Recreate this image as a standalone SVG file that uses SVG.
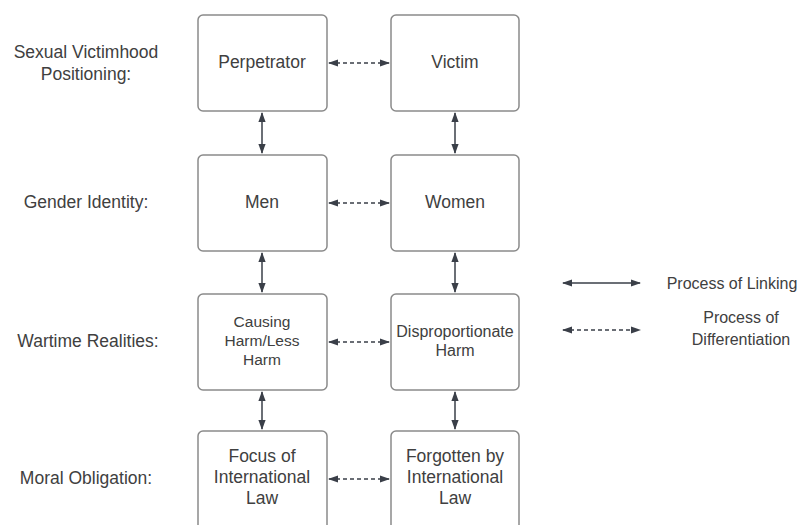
<svg xmlns="http://www.w3.org/2000/svg" width="807" height="525" viewBox="0 0 807 525">
<style>
text{font-family:"Liberation Sans",Arial,sans-serif;font-size:17.5px;fill:#404040;text-anchor:middle}
.s15{font-size:15.5px}
.s16{font-size:16px}
.box{fill:#fff;stroke:#8a8a8a;stroke-width:1.5}
.ln{stroke:#3a3f48;stroke-width:1.5;fill:none;marker-start:url(#ah);marker-end:url(#ah)}
.d{stroke-dasharray:4 3}
</style>
<defs>
<marker id="ah" viewBox="0 0 10 10" refX="9" refY="5" markerWidth="10" markerHeight="9" markerUnits="userSpaceOnUse" orient="auto-start-reverse" preserveAspectRatio="none">
<path d="M0,1 L10,5 L0,9 Z" fill="#3a3f48"/>
</marker>
</defs>
<rect width="807" height="525" fill="#fff"/>
<g id="labels">
<text x="86" y="58">Sexual Victimhood</text>
<text x="86" y="80">Positioning:</text>
<text x="86" y="208">Gender Identity:</text>
<text x="88" y="347">Wartime Realities:</text>
<text x="86" y="484">Moral Obligation:</text>
</g>
<g id="perpetrator"><rect class="box" x="198" y="15" width="129" height="96" rx="5"/><text x="262" y="68">Perpetrator</text></g>
<g id="victim"><rect class="box" x="391" y="15" width="128" height="96" rx="5"/><text x="455" y="68">Victim</text></g>
<g id="men"><rect class="box" x="198" y="155" width="129" height="96" rx="5"/><text x="262" y="208">Men</text></g>
<g id="women"><rect class="box" x="391" y="155" width="128" height="96" rx="5"/><text x="455" y="208">Women</text></g>
<g id="causing"><rect class="box" x="198" y="294" width="129" height="96" rx="5"/><text class="s15" x="262" y="327">Causing</text><text class="s15" x="262" y="346">Harm/Less</text><text class="s15" x="262" y="365">Harm</text></g>
<g id="disproportionate"><rect class="box" x="391" y="294" width="128" height="96" rx="5"/><text class="s16" x="455" y="337">Disproportionate</text><text class="s16" x="455" y="356">Harm</text></g>
<g id="focus"><rect class="box" x="198" y="431" width="129" height="100" rx="5"/><text x="262" y="462">Focus of</text><text x="262" y="483">International</text><text x="262" y="504">Law</text></g>
<g id="forgotten"><rect class="box" x="391" y="431" width="128" height="100" rx="5"/><text x="455" y="462">Forgotten by</text><text x="455" y="483">International</text><text x="455" y="504">Law</text></g>
<g id="connectors">
<line class="ln d" x1="329" y1="63" x2="389" y2="63"/>
<line class="ln d" x1="329" y1="203" x2="389" y2="203"/>
<line class="ln d" x1="329" y1="342" x2="389" y2="342"/>
<line class="ln d" x1="329" y1="479" x2="389" y2="479"/>
<line class="ln" x1="262" y1="113" x2="262" y2="153"/>
<line class="ln" x1="455" y1="113" x2="455" y2="153"/>
<line class="ln" x1="262" y1="253" x2="262" y2="292"/>
<line class="ln" x1="455" y1="253" x2="455" y2="292"/>
<line class="ln" x1="262" y1="392" x2="262" y2="429"/>
<line class="ln" x1="455" y1="392" x2="455" y2="429"/>
</g>
<g id="legend">
<line class="ln" x1="563" y1="283" x2="640" y2="283"/>
<line class="ln d" x1="563" y1="330" x2="640" y2="330"/>
<text class="s16" x="732" y="289">Process of Linking</text>
<text class="s16" x="741" y="323">Process of</text>
<text class="s16" x="741" y="345">Differentiation</text>
</g>
</svg>
